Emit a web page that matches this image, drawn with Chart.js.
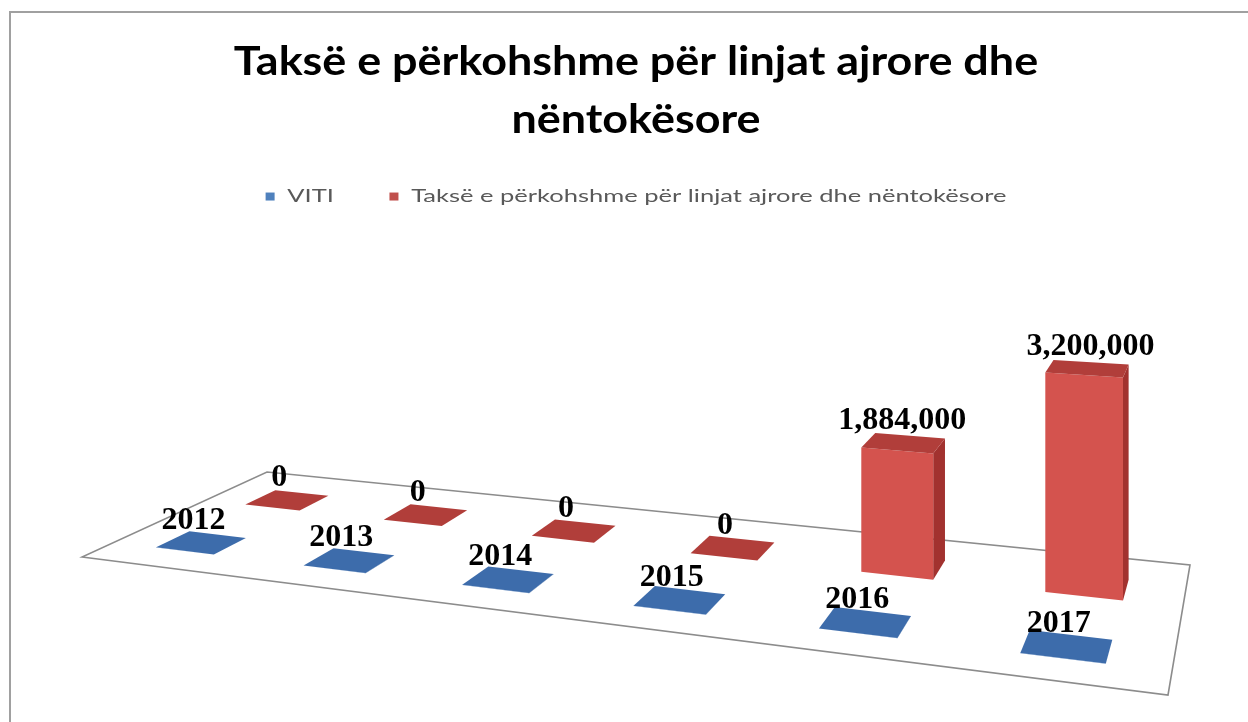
<!DOCTYPE html>
<html>
<head>
<meta charset="utf-8">
<script src="https://cdn.jsdelivr.net/npm/chart.js@4.4.1/dist/chart.umd.min.js"></script>
<style>
  html, body { margin: 0; padding: 0; background: #fff; overflow: hidden; }
  #frame { position: absolute; left: 9px; top: 11px; width: 1300px; height: 800px;
           border-left: 2px solid #a0a0a0; border-top: 2px solid #a0a0a0; }
  #chart { position: absolute; left: 0; top: 0; }
</style>
</head>
<body>
<div id="frame"></div>
<canvas id="chart" width="1248" height="722"></canvas>
<script>
// data
const years = ['2012', '2013', '2014', '2015', '2016', '2017'];
const vitiValues = [2012, 2013, 2014, 2015, 2016, 2017];
const taxValues = [0, 0, 0, 0, 1884000, 3200000];
const seriesNames = ['VITI', 'Taksë e përkohshme për linjat ajrore dhe nëntokësore'];
const yMax = 3500000;

// look of the 3d floor
const rowDepth = [[0.15, 0.32], [0.63, 0.81]];   // blue row in front, red row behind
const liftRatio = 0.41;                          // how high the y range rises toward the horizon
const faceColors = [
  { front: '#4a7ab8', side: '#345f96', top: '#3d6cab' },
  { front: '#d4534e', side: '#a2322f', top: '#b13e3a' }
];
// the picture was stretched sideways, text included
const titleStretch = 1.095;
const legendStretch = 1.5;

// homography from the unit floor square (u along categories, v into depth) to the screen
function makeFloor(area) {
  const p0 = [area.left, area.bottom - 138];        // front left
  const p1 = [area.right - 22, area.bottom];        // front right
  const p2 = [area.right, area.bottom - 130];       // back right
  const p3 = [area.left + 185, area.bottom - 223];  // back left
  const dx1 = p1[0] - p2[0], dy1 = p1[1] - p2[1];
  const dx2 = p3[0] - p2[0], dy2 = p3[1] - p2[1];
  const dx3 = p0[0] - p1[0] + p2[0] - p3[0], dy3 = p0[1] - p1[1] + p2[1] - p3[1];
  const den = dx1 * dy2 - dx2 * dy1;
  const g = (dx3 * dy2 - dx2 * dy3) / den;
  const h = (dx1 * dy3 - dx3 * dy1) / den;
  const a = p1[0] - p0[0] + g * p1[0], b = p3[0] - p0[0] + h * p3[0], c = p0[0];
  const d = p1[1] - p0[1] + g * p1[1], e = p3[1] - p0[1] + h * p3[1], f = p0[1];
  const ground = (u, v) => {
    const w = g * u + h * v + 1;
    return [(a * u + b * v + c) / w, (d * u + e * v + f) / w];
  };
  // vanishing points give the horizon line
  const vpU = [a / g, d / g], vpV = [b / h, e / h];
  const horizon = x => vpU[1] + (vpV[1] - vpU[1]) * (x - vpU[0]) / (vpV[0] - vpU[0]);
  const point = (u, v, t) => {
    const p = ground(u, v);
    return [p[0], p[1] - (p[1] - horizon(p[0])) * t];
  };
  return { corners: [p0, p1, p2, p3], point };
}

function fillPoly(ctx, pts, color) {
  ctx.beginPath();
  ctx.moveTo(pts[0][0], pts[0][1]);
  for (let i = 1; i < pts.length; i++) ctx.lineTo(pts[i][0], pts[i][1]);
  ctx.closePath();
  ctx.fillStyle = color;
  ctx.fill();
}

function drawBox(ctx, floor, u0, u1, v0, v1, t, col) {
  const faces = [
    [col.side, [[u1, v1, 0], [u0, v1, 0], [u0, v1, t], [u1, v1, t]]],
    [col.side, [[u0, v1, 0], [u0, v0, 0], [u0, v0, t], [u0, v1, t]]],
    [col.side, [[u1, v0, 0], [u1, v1, 0], [u1, v1, t], [u1, v0, t]]],
    [col.front, [[u0, v0, 0], [u1, v0, 0], [u1, v0, t], [u0, v0, t]]],
    [col.top, [[u0, v0, t], [u1, v0, t], [u1, v1, t], [u0, v1, t]]]
  ];
  faces.forEach(([color, q]) => {
    const pts = q.map(p => floor.point(p[0], p[1], p[2]));
    let area = 0;
    for (let i = 0; i < pts.length; i++) {
      const n = pts[(i + 1) % pts.length];
      area += pts[i][0] * n[1] - n[0] * pts[i][1];
    }
    if (area < -0.5) fillPoly(ctx, pts, color);
  });
}

function stretchBox(box, sx) {
  if (!box || box._stretched) return;
  const draw = box.draw;
  box.draw = function (area) {
    const ctx = this.ctx;
    const cx = (this.left + this.right) / 2;
    ctx.save();
    ctx.translate(cx, 0);
    ctx.scale(sx, 1);
    ctx.translate(-cx, 0);
    draw.call(this, area);
    ctx.restore();
  };
  box._stretched = true;
}

const floor3d = {
  id: 'floor3d',
  beforeDraw(chart) {
    stretchBox(chart.titleBlock, titleStretch);
    stretchBox(chart.legend, legendStretch);
  },
  beforeDatasetsDraw(chart) {
    const ctx = chart.ctx;
    const area = chart.chartArea;
    const yScale = chart.scales.y;
    const floor = makeFloor(area);

    ctx.save();
    fillPoly(ctx, floor.corners, '#ffffff');
    ctx.strokeStyle = '#8c8c8c';
    ctx.lineWidth = 1.6;
    ctx.stroke();

    const labels = [];
    // back row first, then the front row
    [1, 0].forEach(di => {
      const meta = chart.getDatasetMeta(di);
      const [v0, v1] = rowDepth[di];
      meta.data.forEach((bar, j) => {
        const u0 = (bar.x - bar.width / 2 - area.left) / area.width;
        const u1 = (bar.x + bar.width / 2 - area.left) / area.width;
        const t = (yScale.getPixelForValue(0) - bar.y) / area.height * liftRatio;
        drawBox(ctx, floor, u0, u1, v0, v1, t, faceColors[di]);
        const top = floor.point((u0 + u1) / 2, (v0 + v1) / 2, t);
        const raw = chart.data.datasets[di].data[j];
        const txt = di === 0 ? String(raw) : raw.toLocaleString('en-US');
        labels.push([txt, top[0] - 8 + 30 * t, top[1] - 14]);
      });
    });

    ctx.fillStyle = '#000';
    ctx.font = 'bold 32px "Liberation Serif", "Times New Roman", serif';
    ctx.textAlign = 'center';
    ctx.textBaseline = 'alphabetic';
    labels.forEach(([txt, x, y]) => ctx.fillText(txt, x, y));
    ctx.restore();
    return false;
  }
};

new Chart(document.getElementById('chart'), {
  type: 'bar',
  data: {
    labels: years,
    datasets: [
      { label: seriesNames[0], data: vitiValues, backgroundColor: '#4f81bd' },
      { label: seriesNames[1], data: taxValues, backgroundColor: '#c0504d' }
    ]
  },
  options: {
    responsive: false,
    animation: false,
    devicePixelRatio: 1,
    datasets: { bar: { grouped: false, barPercentage: 0.4, categoryPercentage: 1 } },
    layout: { padding: { left: 82, right: 58, bottom: 27, top: 0 } },
    scales: {
      x: { display: false },
      y: { display: false, min: 0, max: yMax }
    },
    plugins: {
      title: {
        display: true,
        text: ['Taksë e përkohshme për linjat ajrore dhe', 'nëntokësore'],
        color: '#000',
        font: { family: 'Lato', weight: 'bold', size: 41, lineHeight: 1.415 },
        padding: { top: 33, bottom: 2 }
      },
      legend: {
        position: 'top',
        labels: {
          color: '#595959',
          font: { family: 'Lato', size: 17 },
          boxWidth: 6,
          boxHeight: 8,
          padding: 37
        }
      },
      tooltip: { enabled: false }
    }
  },
  plugins: [floor3d]
});
</script>
</body>
</html>
